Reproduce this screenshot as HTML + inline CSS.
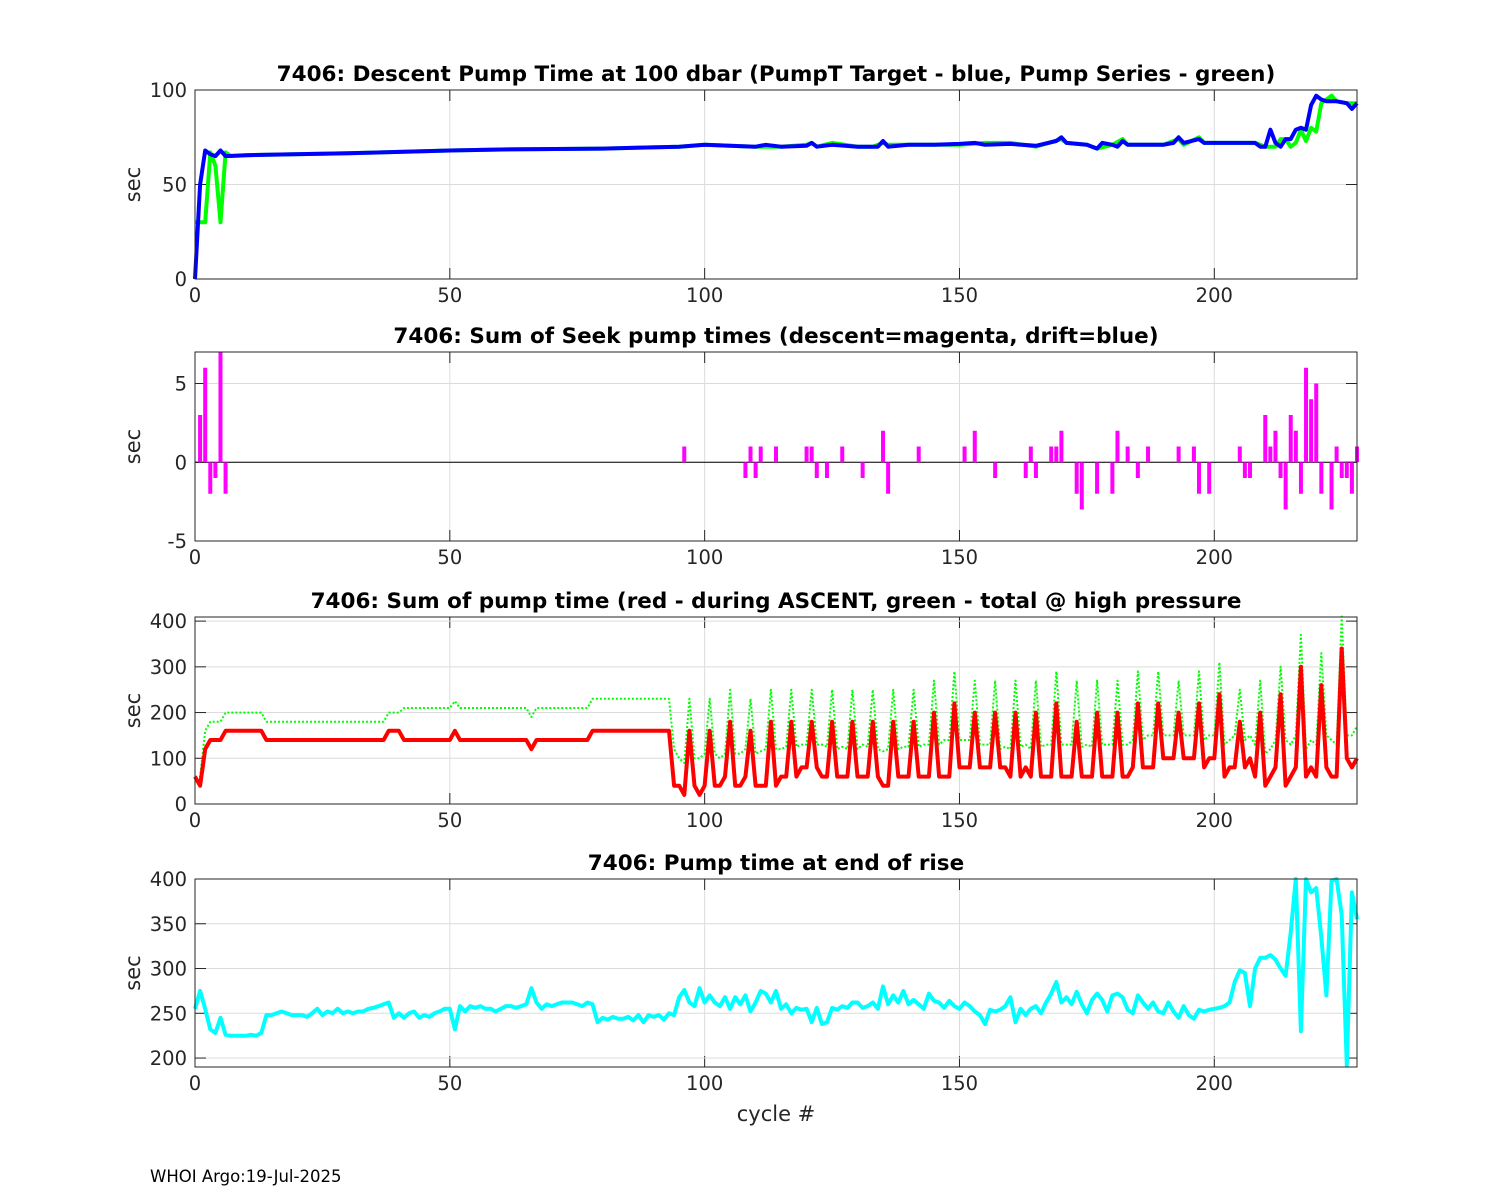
<!DOCTYPE html>
<html><head><meta charset="utf-8"><title>7406 pump times</title>
<style>
html,body{margin:0;padding:0;background:#fff;}
svg{display:block;font-family:"DejaVu Sans","Liberation Sans",sans-serif;}
</style></head>
<body>
<svg id="chart" width="1500" height="1200" viewBox="0 0 1500 1200" xmlns="http://www.w3.org/2000/svg">
<rect x="0" y="0" width="1500" height="1200" fill="#fff"/>
<text x="150" y="1182" font-size="16.5" fill="#000">WHOI Argo:19-Jul-2025</text>
<text x="776" y="1121" font-size="21" text-anchor="middle" fill="#262626">cycle #</text>
</svg>
<script>
// ---- Panel 1 data: descent pump time (sparse points)
const p1BlueCycles=[0,1,2,3,4,5,6,10,30,50,60,80,95,100,105,110,112,115,120,121,122,125,130,133,134,135,136,140,145,150,153,155,160,165,169,170,171,175,177,178,180,181,182,183,190,192,193,194,197,198,205,208,209,210,211,212,213,214,215,216,217,218,219,220,221,222,224,226,227,228];
const p1BlueValues=[0,50,68,66,65,68,65,65.5,66.5,68,68.5,69,70,71,70.5,70,71,70,70.5,72,70,71,70,70,70,73,70,71,71,71.5,72,71,71.5,70.5,73,75,72,71,69,72,71,70,73,71,71,72,75,72,74,72,72,72,70,70,79,72,70,74,74,79,80,79,92,97,95,94,94,93,90,93];
const p1GreenCycles=[0,1,2,3,4,5,6,7,10,30,50,60,80,95,100,105,110,115,120,121,122,125,130,133,135,136,140,150,155,160,165,170,171,175,177,180,182,183,190,193,194,197,198,205,208,210,211,212,213,214,215,216,217,218,219,220,221,222,223,224,226,227,228];
const p1GreenValues=[30,30,30,67,60,30,67,65,65.5,66.5,68,68.5,69,70,71,70.5,70,70,71,72,70,72,70,70,72,71,71,71,72,72,70,74,72,71,69,71,74,71,71,74,71,75,72,72,72,70,70,70,74,74,70,72,79,73,80,78,93,95,97,94,93,93,93];
const p1Ticks=[0,50,100];
// ---- Panel 2 data: seek pump bars
const p2Cycles=[1,2,3,4,5,6,96,108,109,110,111,114,120,121,122,124,127,131,135,136,142,151,153,157,163,164,165,168,169,170,173,174,177,180,181,183,185,187,193,196,197,199,205,206,207,210,211,212,213,214,215,216,217,218,219,220,221,223,224,225,226,227,228];
const p2Values=[3,6,-2,-1,7,-2,1,-1,1,-1,1,1,1,1,-1,-1,1,-1,2,-2,1,1,2,-1,-1,1,-1,1,1,2,-2,-3,-2,-2,2,1,-1,1,1,1,-2,-2,1,-1,-1,3,1,2,-1,-3,3,2,-2,6,4,5,-2,-3,1,-1,-1,-2,1];
const p2Ticks=[-5,0,5];
// ---- Panel 3 data: sum of pump time per cycle 0..228
const p3Red=[60,40,120,140,140,140,160,160,160,160,160,160,160,160,
140,140,140,140,140,140,140,140,140,140,140,140,140,140,140,140,140,140,140,140,140,140,140,140,
160,160,160,140,140,140,140,140,140,140,140,140,140,160,
140,140,140,140,140,140,140,140,140,140,140,140,140,140,120,
140,140,140,140,140,140,140,140,140,140,140,
160,160,160,160,160,160,160,160,160,160,160,160,160,160,160,160,
40,40,20,160,40,20,
40,160,40,40,60,180,40,40,60,160,
40,40,40,180,40,60,60,180,60,80,
80,180,80,60,60,180,60,60,60,180,
60,60,60,180,60,40,40,180,60,60,
60,180,60,60,60,200,60,60,60,220,
80,80,80,200,80,80,80,200,80,80,
60,200,60,80,60,200,60,60,60,220,
60,60,60,180,60,60,60,200,60,60,
60,200,60,60,80,220,80,80,80,220,
100,100,100,200,100,100,100,220,80,100,
100,240,60,80,80,180,80,100,60,200,
40,60,80,240,40,60,80,300,60,80,
60,260,80,60,60,340,100,80,100];
const p3Green=[60,60,160,180,180,180,200,200,200,200,200,200,200,200,
180,180,180,180,180,180,180,180,180,180,180,180,180,180,180,180,180,180,180,180,180,180,180,180,
200,200,200,210,210,210,210,210,210,210,210,210,210,225,
210,210,210,210,210,210,210,210,210,210,210,210,210,210,190,
210,210,210,210,210,210,210,210,210,210,210,
230,230,230,230,230,230,230,230,230,230,230,230,230,230,230,230,
120,100,90,230,100,100,
110,230,110,100,110,250,110,110,120,230,
110,115,120,250,120,120,125,250,125,130,
130,250,130,130,125,250,120,125,120,250,
120,130,125,250,120,115,120,250,120,125,
125,250,125,130,130,270,130,140,140,290,
140,140,140,270,130,130,130,270,120,125,
120,270,125,130,120,270,125,130,130,290,
130,130,130,270,125,130,125,270,130,130,
130,270,130,130,140,290,140,150,150,290,
150,150,150,270,150,150,150,290,140,150,
150,310,130,140,150,250,140,150,130,270,
110,120,140,300,140,130,150,370,120,140,
130,330,150,140,130,410,150,150,170];
const p3Ticks=[0,100,200,300,400];
// ---- Panel 4 data: pump time at end of rise, cycle 0..228
const p4Cyan=[255,275,255,232,228,245,226,225,225,225,
225,226,225,228,248,248,250,252,250,248,
248,248,246,250,255,248,252,250,255,250,
252,250,252,252,255,256,258,260,262,245,
250,245,250,252,245,248,246,250,252,255,
255,232,258,252,258,256,258,255,255,252,
255,258,258,256,258,260,278,262,255,260,
258,260,262,262,262,260,258,262,260,240,
245,243,246,244,244,246,242,248,240,248,
246,248,243,250,248,268,276,262,258,278,
262,270,262,258,268,255,268,260,270,252,
262,275,272,262,275,255,260,250,256,254,
255,240,256,238,240,256,254,258,256,262,
262,256,258,262,255,280,260,270,262,275,
260,265,260,255,272,264,262,256,264,258,
255,262,258,252,248,238,254,252,254,258,
268,240,255,248,255,258,250,262,272,285,
262,268,260,274,260,250,265,272,265,252,
270,272,268,254,250,270,262,255,262,252,
250,262,252,245,258,248,244,254,252,254,
255,256,258,262,285,298,295,258,300,312,
312,315,310,300,292,340,400,230,400,385,
390,335,270,398,400,360,192,385,355];
const p4Ticks=[200,250,300,350,400];
const xTicks=[0,50,100,150,200];

const NS='http://www.w3.org/2000/svg';
const svg=document.getElementById('chart');
const X0=195,X1=1357,XMAX=228;
function xs(c){return X0+(c/XMAX)*(X1-X0);}
function mk(tag,attrs,parent){const e=document.createElementNS(NS,tag);for(const k in attrs)e.setAttribute(k,attrs[k]);(parent||svg).appendChild(e);return e;}

function makeAxes(name,top,bot,ymin,ymax,yTicks,title){
  const g=mk('g',{});
  
  
  const ys=v=>bot-(v-ymin)/(ymax-ymin)*(bot-top);
  mk('rect',{x:X0,y:top,width:X1-X0,height:bot-top,fill:'#fff'},g);
  xTicks.forEach(t=>{
    const x=xs(t);
    const gl=mk('line',{x1:x,x2:x,y1:top,y2:bot,stroke:'#dcdcdc','stroke-width':1},g);
    
    
    mk('line',{x1:x,x2:x,y1:bot,y2:bot-11,stroke:'#262626','stroke-width':1},g);
    mk('line',{x1:x,x2:x,y1:top,y2:top+11,stroke:'#262626','stroke-width':1},g);
    const tl=mk('text',{x:x,y:bot+23,'font-size':19.5,'text-anchor':'middle',fill:'#262626'},g);
    tl.textContent=t;
    
    
  });
  yTicks.forEach(t=>{
    const y=ys(t);
    const gl=mk('line',{x1:X0,x2:X1,y1:y,y2:y,stroke:'#dcdcdc','stroke-width':1},g);
    
    
    mk('line',{x1:X0,x2:X0+11,y1:y,y2:y,stroke:'#262626','stroke-width':1},g);
    mk('line',{x1:X1,x2:X1-11,y1:y,y2:y,stroke:'#262626','stroke-width':1},g);
    const tl=mk('text',{x:X0-8,y:y+7,'font-size':19.5,'text-anchor':'end',fill:'#262626'},g);
    tl.textContent=t;
    
    
  });
  const yl=mk('text',{x:0,y:0,'font-size':21,'text-anchor':'middle',fill:'#262626',transform:`translate(140,${(top+bot)/2}) rotate(-90)`},g);
  yl.textContent='sec';
  
  
  const tt=mk('text',{x:776,y:top-9,'font-size':21.5,'font-weight':'bold','text-anchor':'middle',fill:'#000'},g);
  tt.textContent=title;
  
  
  return {g,ys,top,bot};
}
function frame(ax){
  const r=mk('rect',{x:X0,y:ax.top,width:X1-X0,height:ax.bot-ax.top,fill:'none',stroke:'#262626','stroke-width':1},ax.g);
  
  
}
function line(ax,cycles,vals,color,w,dash,name){
  const pts=vals.map((v,i)=>xs(cycles?cycles[i]:i).toFixed(1)+','+ax.ys(v).toFixed(1)).join(' ');
  const a={points:pts,fill:'none',stroke:color,'stroke-width':w,'stroke-linejoin':'round'};
  if(dash)a['stroke-dasharray']=dash;
  const p=mk('polyline',a,ax.g);
  
  
}

// Panel 1
const a1=makeAxes('panel-descent-pump',90,279,0,100,p1Ticks,'7406: Descent Pump Time at 100 dbar (PumpT Target - blue, Pump Series - green)');
line(a1,p1GreenCycles,p1GreenValues,'#00ff00',4,null,'pump-series-line');
line(a1,p1BlueCycles,p1BlueValues,'#0000ff',4,null,'pumpt-target-line');
frame(a1);

// Panel 2
const a2=makeAxes('panel-seek-pump',352,541,-5,7,p2Ticks,'7406: Sum of Seek pump times (descent=magenta, drift=blue)');
const zl=mk('line',{x1:X0,x2:X1,y1:a2.ys(0),y2:a2.ys(0),stroke:'#000','stroke-width':1},a2.g);


p2Cycles.forEach((c,i)=>{
  const v=p2Values[i];
  const y0=a2.ys(0),y1=a2.ys(v);
  const b=mk('rect',{x:xs(c)-2,y:Math.min(y0,y1),width:4,height:Math.abs(y1-y0),fill:'#ff00ff'},a2.g);
  
  
});
frame(a2);

// Panel 3
const a3=makeAxes('panel-sum-pump',617,804,0,409,p3Ticks,'7406: Sum of pump time (red - during ASCENT, green - total @ high pressure');
line(a3,null,p3Green,'#00ff00',2,'2,2','total-high-pressure-line');
line(a3,null,p3Red,'#ff0000',4,null,'ascent-pump-line');
frame(a3);

// Panel 4
const a4=makeAxes('panel-end-of-rise',879,1067,190,400,p4Ticks,'7406: Pump time at end of rise');
line(a4,null,p4Cyan,'#00ffff',4,null,'end-of-rise-line');
frame(a4);
</script>
</body></html>
